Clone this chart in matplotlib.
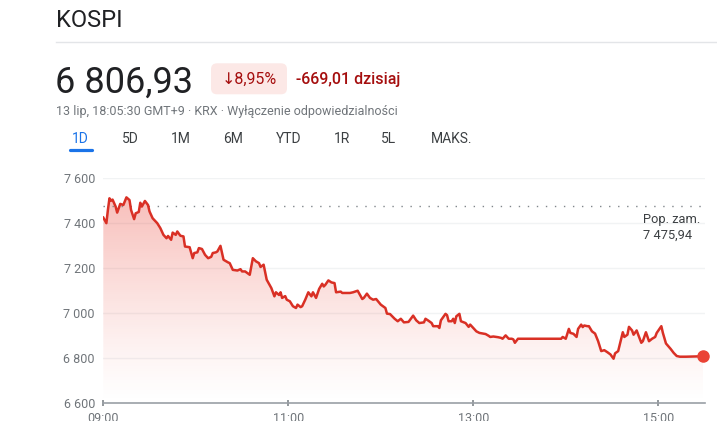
import matplotlib
matplotlib.use("Agg")
import matplotlib.pyplot as plt
from matplotlib.patches import FancyBboxPatch, Polygon
from matplotlib.ticker import FixedLocator, FuncFormatter
import numpy as np

# minutes after 09:00 and index level
minutes = [0, 2, 3, 4, 5, 6, 8, 9, 11, 13, 15, 17, 18, 20, 21, 23, 24, 25, 27, 29,
           30, 32, 35, 37, 39, 41, 42, 44, 45, 47, 48, 50, 52, 53, 56, 58, 59, 61, 62, 64,
           66, 68, 70, 71, 73, 74, 76, 78, 81, 82, 84, 87, 89, 90, 92, 94, 95, 96, 97, 99,
           101, 102, 104, 106, 109, 111, 112, 114, 115, 116, 118, 119, 121, 123, 125, 126, 128, 129, 131, 133,
           135, 136, 138, 140, 142, 143, 144, 146, 148, 150, 151, 154, 155, 158, 160, 162, 165, 168, 169, 171,
           173, 175, 177, 180, 183, 184, 186, 189, 191, 193, 195, 198, 201, 203, 205, 208, 209, 211, 213, 214,
           217, 218, 219, 222, 223, 224, 226, 227, 228, 229, 231, 232, 235, 237, 238, 240, 242, 244, 248, 250,
           251, 253, 256, 258, 259, 261, 263, 265, 266, 267, 269, 297, 298, 300, 302, 303, 305, 307, 308, 310,
           311, 312, 314, 315, 317, 319, 321, 323, 325, 327, 329, 331, 332, 333, 334, 336, 337, 338, 340, 341,
           343, 344, 346, 347, 349, 350, 352, 354, 356, 358, 359, 362, 363, 365, 368, 370, 372, 374, 375, 378,
           389]
kospi = [7425, 7400, 7460, 7511, 7500, 7505, 7474, 7447, 7486, 7481, 7515, 7503, 7459, 7418, 7444, 7450, 7491, 7474, 7499, 7481,
         7452, 7422, 7400, 7378, 7348, 7333, 7343, 7326, 7358, 7348, 7363, 7344, 7341, 7296, 7293, 7244, 7267, 7270, 7289, 7285,
         7259, 7244, 7250, 7267, 7270, 7274, 7299, 7237, 7225, 7222, 7192, 7189, 7195, 7185, 7185, 7175, 7170, 7207, 7244, 7230,
         7222, 7205, 7215, 7148, 7111, 7074, 7092, 7080, 7092, 7067, 7075, 7059, 7052, 7030, 7022, 7037, 7026, 7030, 7059, 7092,
         7074, 7092, 7067, 7107, 7130, 7118, 7125, 7145, 7136, 7133, 7092, 7095, 7089, 7089, 7089, 7092, 7099, 7062, 7067, 7086,
         7067, 7059, 7062, 7037, 7022, 6997, 6995, 6974, 6963, 6974, 6958, 6960, 6988, 6967, 6955, 6958, 6974, 6965, 6955, 6941,
         6941, 6933, 6967, 6996, 6990, 6963, 6963, 6974, 6955, 6985, 6996, 6963, 6955, 6938, 6948, 6933, 6918, 6911, 6906, 6898,
         6893, 6895, 6892, 6889, 6885, 6900, 6885, 6885, 6882, 6867, 6885, 6885, 6893, 6885, 6929, 6911, 6907, 6893, 6929, 6948,
         6937, 6944, 6941, 6941, 6918, 6908, 6874, 6830, 6834, 6825, 6815, 6796, 6820, 6825, 6830, 6885, 6914, 6893, 6903, 6938,
         6922, 6903, 6922, 6903, 6867, 6874, 6914, 6874, 6885, 6893, 6911, 6941, 6911, 6864, 6840, 6822, 6808, 6805, 6805, 6805,
         6806.93]

prev_close = 7475.94
y_ticks = [6600, 6800, 7000, 7200, 7400, 7600]
x_ticks = [0, 120, 240, 360]
x_labels = ["09:00", "11:00", "13:00", "15:00"]
tabs = ["1D", "5D", "1M", "6M", "YTD", "1R", "5L", "MAKS."]

RED = "#d93025"
GRAY = "#70757a"
DARK = "#202124"
W, H = 717, 421


def fx(px):
    return px / W


def fy(py):
    return 1 - py / H


plt.rcParams["font.family"] = ["Roboto", "DejaVu Sans"]

fig = plt.figure(figsize=(W / 100, H / 100), dpi=100)

# header
fig.text(fx(56), fy(26.7), "KOSPI", fontsize=17, color=DARK, va="baseline")
fig.add_artist(plt.Line2D([fx(56), 1], [fy(42.3), fy(42.3)], color="#e3e5e8", lw=1))
fig.text(fx(55), fy(93), "6 806,93", fontsize=26, color=DARK, va="baseline")

badge = FancyBboxPatch((211, H - 94.3), 76, 31, boxstyle="round,pad=0,rounding_size=6",
                       transform=None, facecolor="#fce8e6", edgecolor="none")
fig.add_artist(badge)
fig.text(fx(249), fy(84), "↓8,95%", fontsize=11.5, color="#a50e0e", va="baseline", ha="center")
fig.text(fx(296), fy(84), "-669,01 dzisiaj", fontsize=11.5, color="#a50e0e", va="baseline",
         fontweight="medium")
fig.text(fx(56), fy(114.5), "13 lip, 18:05:30 GMT+9 · KRX · Wyłączenie odpowiedzialności",
         fontsize=9, color=GRAY, va="baseline")

tab_x = [80, 130, 180.5, 232.7, 288.5, 342, 389, 451.3]
for name, x in zip(tabs, tab_x):
    fig.text(fx(x), fy(142.7), name, fontsize=10, ha="center", va="baseline",
             color="#1a73e8" if name == "1D" else "#3c4043")
fig.add_artist(plt.Line2D([fx(69.5), fx(91.5)], [fy(150), fy(150)], color="#1a73e8", lw=2.3,
                          solid_capstyle="round"))

# chart
ax = fig.add_axes([fx(103.3), fy(402.7), (704.5 - 103.3) / W, (402.7 - 178.3) / H])
ax.set_xlim(0, 390)
ax.set_ylim(6600, 7600)

x = np.array(minutes, dtype=float)
y = np.array(kospi, dtype=float)

verts = [(x[0], 6600)] + list(zip(x, y)) + [(x[-1], 6600)]
poly = Polygon(verts, closed=True, facecolor="none", edgecolor="none")
ax.add_patch(poly)
grad = np.linspace(0, 1, 256)
rgba = np.zeros((256, 1, 4))
rgba[..., 0] = 0.92
rgba[..., 1] = 0.26
rgba[..., 2] = 0.21
rgba[:, 0, 3] = grad ** 1.2 * 0.34
im = ax.imshow(rgba, extent=[0, 390, 6600, 7520], origin="lower", aspect="auto", zorder=1)
im.set_clip_path(poly)

for t in y_ticks[1:]:
    ax.axhline(t, color="#f1f3f4", lw=1, zorder=0)
ax.axhline(prev_close, xmax=0.995, color="#80868b", lw=1, ls=(0, (1, 5.5)), zorder=2)

ax.plot(x, y, color=RED, lw=1.8, zorder=3, solid_joinstyle="round")
ax.plot(x[-1], y[-1], "o", color="#ea4335", markersize=8, zorder=4, clip_on=False)

ax.text(0.897, 1 - (223.3 - 178.3) / 224.4, "Pop. zam.",
        transform=ax.transAxes, fontsize=9.3, color="#3c4043", va="baseline")
ax.text(0.897, 1 - (238.8 - 178.3) / 224.4, "7 475,94",
        transform=ax.transAxes, fontsize=9.3, color="#3c4043", va="baseline")

ax.yaxis.set_major_locator(FixedLocator(y_ticks))
ax.yaxis.set_major_formatter(FuncFormatter(lambda v, p: f"{int(v):,}".replace(",", " ")))
ax.set_xticks(x_ticks)
ax.set_xticklabels(x_labels)
ax.tick_params(axis="y", length=0, pad=6, labelsize=9, labelcolor=GRAY)
ax.tick_params(axis="x", direction="inout", length=5, width=1.2, color="#80868b",
               pad=4, labelsize=9, labelcolor=GRAY)
for s in ["top", "right", "left"]:
    ax.spines[s].set_visible(False)
ax.spines["bottom"].set_color("#9aa0a6")
ax.spines["bottom"].set_linewidth(1.2)
ax.patch.set_alpha(0)

fig.savefig("out.png", dpi=100)
